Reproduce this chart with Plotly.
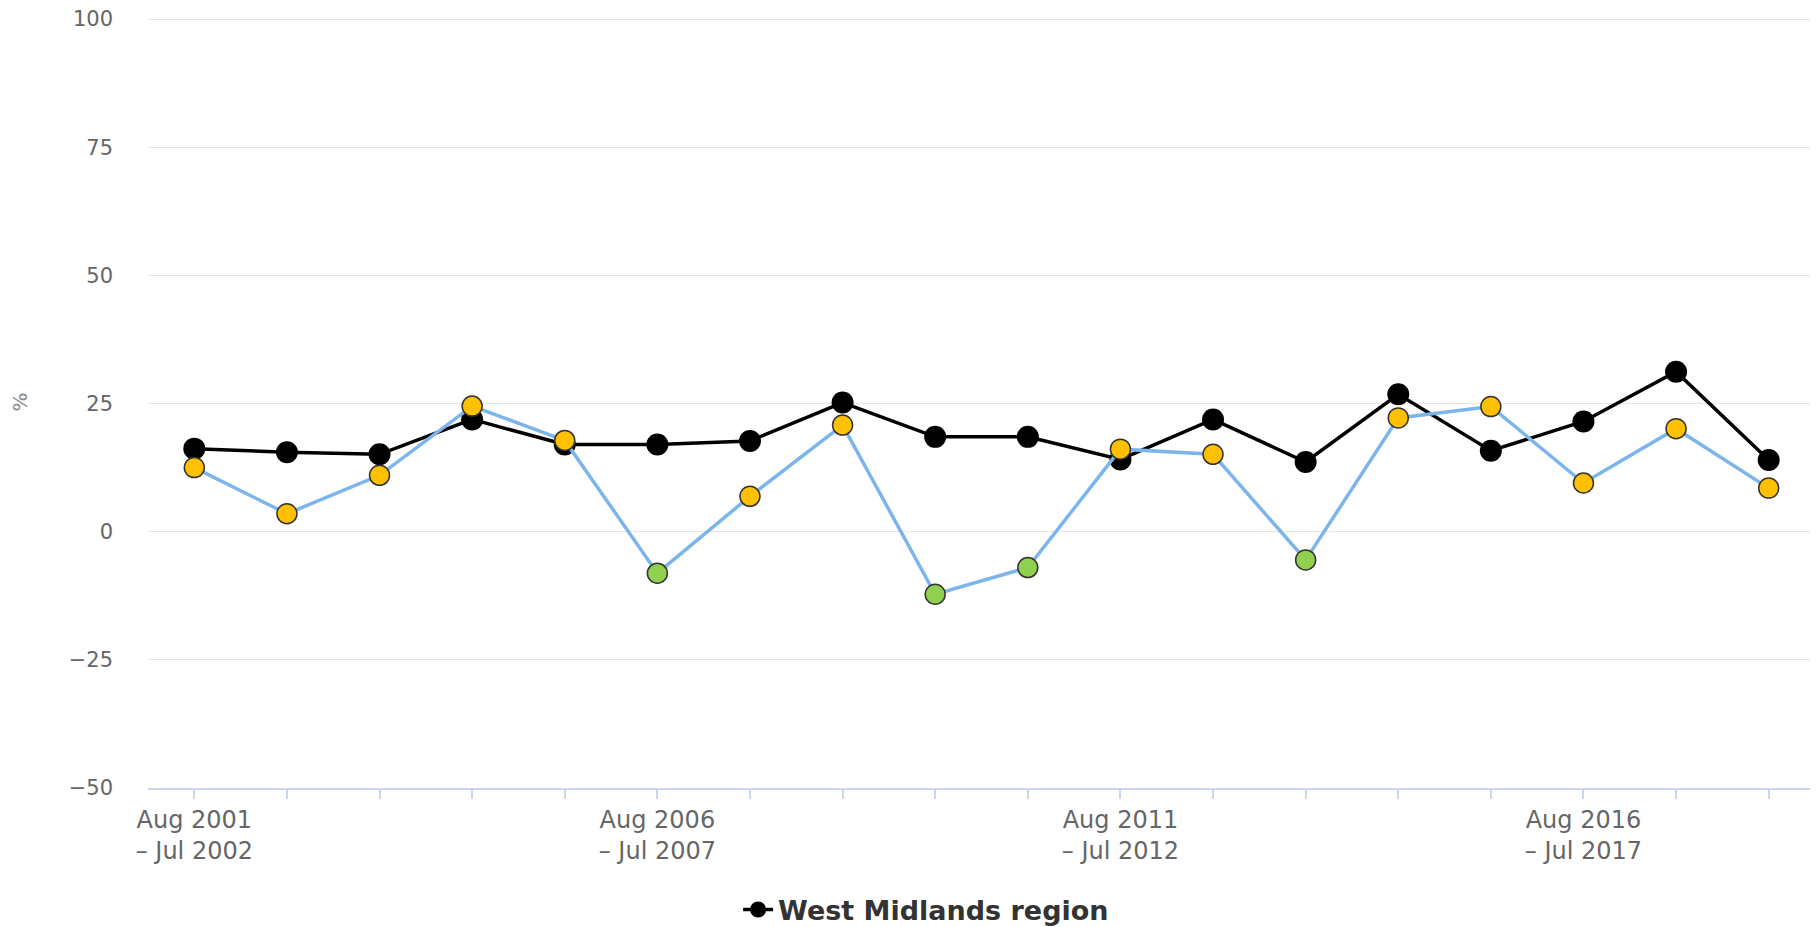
import plotly.graph_objects as go

periods = [f"Aug {y} – Jul {y+1}" for y in range(2001, 2019)]
tick_labels = {0: "Aug 2001<br>– Jul 2002", 5: "Aug 2006<br>– Jul 2007",
               10: "Aug 2011<br>– Jul 2012", 15: "Aug 2016<br>– Jul 2017"}

west_midlands = [16.2, 15.5, 15.1, 21.9, 17.0, 17.0, 17.7, 25.2, 18.5,
                 18.5, 14.1, 21.9, 13.6, 26.8, 15.8, 21.5, 31.2, 14.0]
local_area = [12.5, 3.5, 11.0, 24.5, 17.8, -8.1, 6.9, 20.8, -12.2,
              -7.0, 16.1, 15.1, -5.5, 22.2, 24.4, 9.5, 20.1, 8.5]

POS_COLOR = "#FFC000"
NEG_COLOR = "#8FD14F"
marker_colors = [POS_COLOR if v >= 0 else NEG_COLOR for v in local_area]

fig = go.Figure()
fig.add_trace(go.Scatter(
    x=periods, y=west_midlands, name="West Midlands region",
    mode="lines+markers",
    line=dict(color="#000000", width=3.5),
    marker=dict(color="#000000", size=22, line=dict(width=0)),
    showlegend=True,
))
fig.add_trace(go.Scatter(
    x=periods, y=local_area, name="Local area",
    mode="lines+markers",
    line=dict(color="#7cb5ec", width=3.5),
    marker=dict(color=marker_colors, size=20, line=dict(color="#333333", width=1.5)),
    showlegend=False,
))

tickvals = periods
ticktext = [tick_labels.get(i, "") for i in range(len(periods))]

fig.update_layout(
    width=1818, height=927,
    margin=dict(l=140, r=11, t=8, b=147),
    paper_bgcolor="white", plot_bgcolor="white",
    font=dict(family="DejaVu Sans", color="#666666", size=21),
    showlegend=True,
    legend=dict(orientation="h", xref="container", yref="container",
                x=0.505, xanchor="center", y=0.027, yanchor="middle",
                font=dict(size=27, color="#333333", weight="bold")),
    xaxis=dict(type="category", range=[-0.5, len(periods) - 0.5],
               tickmode="array", tickvals=tickvals, ticktext=ticktext,
               showgrid=False, showline=True, linecolor="#ccd6eb", linewidth=1.5,
               ticks="outside", ticklen=9, tickcolor="#ccd6eb", tickwidth=1.5,
               tickfont=dict(size=24, color="#666666"), zeroline=False,
               automargin=False),
    yaxis=dict(range=[-50, 100.6], tickmode="array", tickvals=[-50, -25, 0, 25, 50, 75, 100],
               showgrid=True, gridcolor="#e6e6e6", gridwidth=1.3,
               zeroline=True, zerolinecolor="#e6e6e6", zerolinewidth=1.3,
               showline=False, ticks="", ticklabelstandoff=34,
               ticklabeloverflow="allow",
               tickfont=dict(size=21, color="#666666"),
               title=dict(text="%", font=dict(size=20, color="#888888"), standoff=40),
               automargin=False),
)

fig.write_html("out.html")
